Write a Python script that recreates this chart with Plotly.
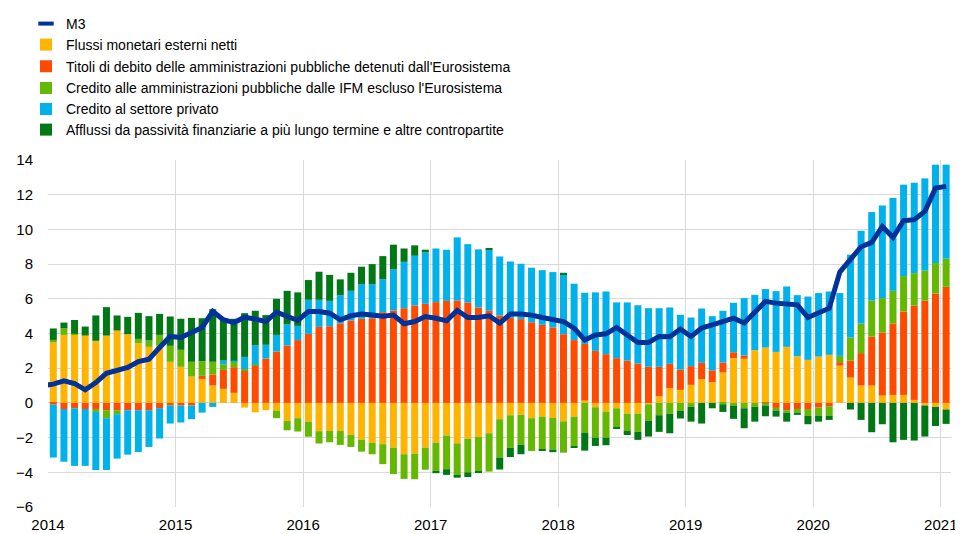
import plotly.graph_objects as go

# Monthly data, Jan 2014 - Jan 2021 (annual growth rates / contributions, %)
start_year = 2014
n_months = 85

flussi_esterni = [3.48, 3.92, 3.96, 3.87, 3.58, 3.88, 4.17, 3.96, 3.44, 3.23, 3.30, 2.37,
                  2.08, 1.52, 1.38, 1.00, 0.81, 0.58, -0.27, -0.54, -0.42, -0.44, -1.04, -0.88,
                  -1.08, -1.63, -1.62, -1.62, -1.85, -2.12, -2.31, -2.38, -2.58, -2.96, -2.92, -2.58,
                  -2.29, -1.88, -2.33, -2.06, -1.96, -1.75, -0.94, -0.71, -0.69, -0.88, -0.79, -0.87,
                  -1.06, -0.79, 0.13, -0.25, -0.50, -0.31, -0.62, -0.62, -0.08, 0.38, 0.85, 0.75,
                  1.04, 1.37, 1.19, 1.75, 2.58, 2.54, 3.04, 3.19, 2.94, 3.23, 2.69, 2.48,
                  2.67, 2.77, 2.15, 1.46, 1.00, 1.00, 0.42, 0.46, 0.46, 0.17, -0.15, -0.23,
                  -0.38]

titoli_eurosistema = [-0.10, -0.35, -0.31, -0.35, -0.35, -0.42, -0.42, -0.42, -0.42, -0.42, -0.30, -0.15,
                      -0.15, -0.15, 0.18, 0.63, 1.09, 1.48, 1.87, 2.17, 2.56, 2.96, 3.31, 3.62,
                      3.98, 4.38, 4.42, 4.58, 4.75, 4.85, 4.88, 5.23, 5.33, 5.46, 5.62, 5.71,
                      5.81, 5.88, 5.90, 5.79, 5.50, 5.31, 5.04, 4.90, 4.83, 4.65, 4.50, 4.35,
                      3.96, 3.62, 3.27, 3.00, 2.81, 2.58, 2.44, 2.27, 2.08, 1.70, 1.40, 1.17,
                      1.08, 0.94, 0.69, 0.58, 0.34, 0.19, 0.00, -0.05, -0.29, -0.42, -0.35, -0.35,
                      -0.27, -0.19, 0.20, 0.98, 1.87, 2.83, 3.64, 4.12, 4.81, 5.43, 5.90, 6.31,
                      6.69]

credito_aapp_ifm = [0.15, 0.38, 0.03, 0.05, -0.17, -0.46, -0.23, 0.00, 0.25, 0.37, 0.62, 0.92,
                    0.98, 0.85, 0.84, 0.74, 0.33, 0.31, 0.08, 0.04, 0.00, -0.44, -0.54, -0.77,
                    -0.87, -0.71, -0.65, -0.80, -0.69, -0.69, -0.65, -1.15, -1.52, -1.42, -1.48, -1.27,
                    -1.63, -1.94, -1.88, -1.94, -2.00, -2.21, -2.21, -1.87, -1.73, -1.89, -1.90, -1.82,
                    -1.81, -1.69, -1.71, -1.75, -1.50, -1.11, -1.00, -1.05, -0.94, -0.71, -0.62, -0.46,
                    -0.23, 0.00, 0.00, -0.08, -0.15, -0.31, -0.23, -0.10, -0.15, -0.14, -0.21, -0.40,
                    -0.46, -0.54, 0.36, 1.33, 1.71, 2.07, 1.98, 1.88, 2.04, 1.88, 1.73, 1.75,
                    1.62]

credito_privato = [-3.05, -3.04, -3.32, -3.28, -3.35, -2.99, -2.56, -2.56, -2.41, -2.12, -1.75, -1.04,
                   -0.98, -0.79, -0.56, -0.23, 0.21, 0.07, 0.70, 1.12, 0.79, 0.96, 1.23, 0.82,
                   1.96, 1.56, 1.46, 1.63, 1.71, 2.00, 1.97, 1.90, 2.38, 2.67, 2.86, 2.98,
                   3.09, 2.95, 3.64, 3.36, 3.35, 3.52, 3.40, 3.25, 3.19, 3.14, 3.15, 3.19,
                   3.46, 3.25, 2.95, 3.37, 3.61, 3.21, 3.35, 3.36, 3.38, 3.38, 3.25, 3.16,
                   2.80, 3.13, 3.12, 2.98, 2.85, 3.31, 3.19, 3.37, 3.50, 3.48, 3.52, 3.65,
                   3.66, 3.65, 3.62, 4.77, 5.34, 5.10, 5.34, 5.35, 5.27, 5.21, 5.31, 5.67,
                   5.42]

afflussi_passivita = [0.66, 0.33, 0.79, 0.48, 1.46, 1.64, 0.87, 1.00, 1.50, 1.40, 1.21, 1.69,
                      1.79, 2.53, 2.48, 3.03, 2.35, 2.41, 2.52, 1.98, 1.71, 2.08, 1.92, 1.93,
                      1.14, 1.62, 1.50, 0.91, 1.04, 1.00, 1.15, 1.33, 1.41, 0.77, 0.60, 0.14,
                      -0.13, -0.33, -0.10, -0.27, -0.04, 0.09, -0.69, -0.54, -0.54, 0.00, -0.08, -0.15,
                      0.08, -0.12, -1.04, -0.48, -0.44, -0.08, -0.23, -0.46, -0.92, -0.96, -1.13, -0.44,
                      -0.85, -1.19, -0.31, -0.44, -0.77, -1.15, -0.85, -0.62, -0.35, -0.52, -0.13, -0.48,
                      -0.35, -0.25, 0.00, -0.38, -0.98, -1.69, -1.23, -2.27, -2.13, -2.17, -1.79, -1.10,
                      -0.83]

# M3 starts one month earlier (Dec 2013), the line runs in from the left edge
m3_start_offset = -1
m3 = [1.00,
      1.08, 1.27, 1.12, 0.75, 1.17, 1.71, 1.90, 2.04, 2.38, 2.52, 3.19, 3.83,
      3.77, 4.10, 4.35, 5.27, 4.79, 4.63, 4.94, 4.83, 4.69, 5.23, 4.98, 4.75,
      5.27, 5.27, 5.17, 4.79, 5.02, 5.12, 5.06, 5.00, 5.06, 4.56, 4.69, 4.98,
      4.88, 4.73, 5.33, 4.92, 4.92, 5.02, 4.60, 5.12, 5.12, 5.06, 4.92, 4.77,
      4.69, 4.31, 3.63, 3.92, 3.98, 4.35, 3.92, 3.48, 3.48, 3.83, 3.81, 4.25,
      3.83, 4.31, 4.50, 4.69, 4.88, 4.60, 5.27, 5.85, 5.75, 5.73, 5.65, 4.92,
      5.21, 5.46, 7.54, 8.25, 9.00, 9.25, 10.17, 9.54, 10.50, 10.56, 11.04, 12.38,
      12.48]

year_ticks = [2014, 2015, 2016, 2017, 2018, 2019, 2020, 2021]
y_ticks = [-6, -4, -2, 0, 2, 4, 6, 8, 10, 12, 14]

series_names = [
    "Flussi monetari esterni netti",
    "Titoli di debito delle amministrazioni pubbliche detenuti dall'Eurosistema",
    "Credito alle amministrazioni pubbliche dalle IFM escluso l'Eurosistema",
    "Credito al settore privato",
    "Afflussi da passività finanziarie a più lungo termine e altre contropartite",
]
series_values = [flussi_esterni, titoli_eurosistema, credito_aapp_ifm, credito_privato, afflussi_passivita]
series_colors = ["#FFB400", "#FF4B00", "#65B800", "#00B1EA", "#007816"]
m3_color = "#003299"

# layout geometry (figure pixels)
fig_w, fig_h = 955, 526
m_l, m_r, m_t, m_b = 40, 12, 152, 27
plot_h = fig_h - m_t - m_b
plot_w = fig_w - m_l - m_r
legend_row_px = [16, 37, 58.7, 80.3, 101.3, 122]   # row centres from figure top
legend_left_px = 18

def legend_y(px):
    return 1 + (m_t - px) / plot_h

legend_x = (legend_left_px - m_l) / plot_w

# month centres on a decimal-year axis
x = [start_year + (i + 0.5) / 12 for i in range(n_months)]
x_m3 = [start_year + (i + m3_start_offset + 0.5) / 12 for i in range(len(m3))]

fig = go.Figure()
fig.add_trace(go.Scatter(x=x_m3, y=m3, mode="lines", name="M3", legendgroup="m3",
                         showlegend=False, line=dict(color=m3_color, width=5)))
# legend key for M3: short thick dash
fig.add_trace(go.Scatter(x=[None], y=[None], mode="markers", name="M3", legendgroup="m3",
                         legend="legend",
                         marker=dict(symbol="line-ew", size=11,
                                     line=dict(color=m3_color, width=4))))
legend_ids = ["legend2", "legend3", "legend4", "legend5", "legend6"]
for name, vals, col, lid in zip(series_names, series_values, series_colors, legend_ids):
    fig.add_trace(go.Bar(x=x, y=vals, name=name, legend=lid,
                         marker=dict(color=col, line=dict(width=0)),
                         width=0.66 / 12))

font_family = "Liberation Sans, Arial, sans-serif"
legend_common = dict(xanchor="left", yanchor="middle", bgcolor="rgba(0,0,0,0)",
                     font=dict(size=14), itemclick=False, itemdoubleclick=False)
legend_layout = {}
for k, lid in enumerate(["legend"] + legend_ids):
    legend_layout[lid] = dict(x=legend_x, y=legend_y(legend_row_px[k]), **legend_common)

fig.update_layout(
    width=fig_w, height=fig_h,
    barmode="relative",
    plot_bgcolor="white", paper_bgcolor="white",
    margin=dict(l=m_l, r=m_r, t=m_t, b=m_b, autoexpand=False),
    font=dict(family=font_family, size=15, color="#000000"),
    showlegend=True,
    xaxis=dict(range=[2014, 2021.08], tickvals=year_ticks, ticktext=[str(t) for t in year_ticks],
               showgrid=True, gridcolor="#d9d9d9", gridwidth=1, zeroline=False,
               showline=False, ticks="", ticklabelstandoff=7, tickfont=dict(size=15)),
    yaxis=dict(range=[-6, 14], tickvals=y_ticks, showgrid=True, gridcolor="#d9d9d9",
               gridwidth=1, zeroline=False, showline=False, ticks="",
               ticklabelstandoff=14, tickfont=dict(size=15)),
    **legend_layout,
)

fig.write_html("out.html")
